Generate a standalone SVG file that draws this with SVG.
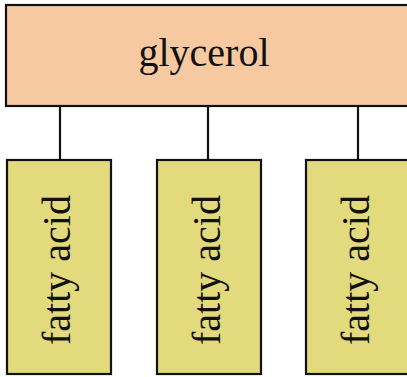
<svg xmlns="http://www.w3.org/2000/svg" width="407" height="377" viewBox="0 0 407 377">
<style>
.box{stroke:#111;stroke-width:2.2}
.g{fill:#F7C9A1}
.f{fill:#E2DA7C}
.t{font-family:"Liberation Serif","Times New Roman",serif;font-size:40px;fill:#111}
.c{stroke:#111;stroke-width:2.2;fill:none}
</style>
<rect x="0" y="0" width="407" height="377" fill="#fff"/>
<g id="connectors">
<line class="c" x1="60" y1="106" x2="60" y2="160"/>
<line class="c" x1="208" y1="106" x2="208" y2="160"/>
<line class="c" x1="358" y1="106" x2="358" y2="160"/>
</g>
<g id="glycerol">
<rect class="box g" x="6" y="5" width="410" height="101"/>
<text class="t" x="204" y="66" text-anchor="middle">glycerol</text>
</g>
<g id="fatty-acid-1">
<rect class="box f" x="7" y="160" width="104" height="214"/>
<text class="t" transform="translate(70,270) rotate(-90)" text-anchor="middle">fatty acid</text>
</g>
<g id="fatty-acid-2">
<rect class="box f" x="157" y="160" width="104" height="214"/>
<text class="t" transform="translate(220,270) rotate(-90)" text-anchor="middle">fatty acid</text>
</g>
<g id="fatty-acid-3">
<rect class="box f" x="306" y="160" width="110" height="214"/>
<text class="t" transform="translate(369,270) rotate(-90)" text-anchor="middle">fatty acid</text>
</g>
</svg>
